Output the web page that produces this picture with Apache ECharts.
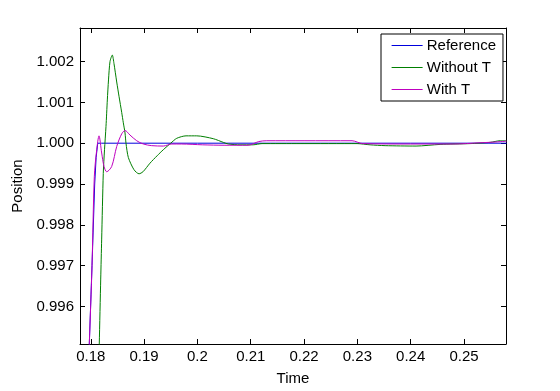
<!DOCTYPE html>
<html>
<head>
<meta charset="utf-8">
<script src="https://cdn.jsdelivr.net/npm/echarts@6/dist/echarts.min.js"></script>
<style>
html,body{margin:0;padding:0;background:#fff;}
#chart{width:560px;height:391px;}
</style>
</head>
<body>
<div id="chart"></div>
<script>
// ---- data ----
var xTicks = [0.18, 0.19, 0.20, 0.21, 0.22, 0.23, 0.24, 0.25];
var yTicks = [0.996, 0.997, 0.998, 0.999, 1.000, 1.001, 1.002];

var refTime = [0.17934, 0.17972, 0.18023, 0.18073, 0.18100, 0.18130, 0.18200, 0.2000, 0.2200, 0.2400, 0.2580];
var refPos  = [0.9937, 0.99508, 0.99700, 0.99900, 0.99965, 1.00000, 1.00000, 1.00000, 1.00000, 1.00000, 1.00000];

var woTime = [0.18150, 0.18159, 0.18186, 0.18204, 0.18234, 0.18257, 0.18285, 0.18310, 0.18332, 0.18360, 0.18403,
              0.18435, 0.18486, 0.18529, 0.18580, 0.18610, 0.18642, 0.18660, 0.18704, 0.18810, 0.18904, 0.18979,
              0.19110, 0.19242, 0.19360, 0.19499, 0.19612, 0.19786, 0.19987, 0.20298, 0.20486, 0.20579, 0.20799,
              0.21043, 0.21212, 0.21925, 0.22994, 0.23238, 0.23520, 0.24101, 0.24551, 0.25114, 0.25489, 0.25677, 0.25790];
var woPos  = [0.99450, 0.99508, 0.99667, 0.99765, 0.99926, 0.99984, 1.00041, 1.00106, 1.00155, 1.00200, 1.00216,
              1.00195, 1.00150, 1.00115, 1.00075, 1.00050, 1.00025, 1.00000, 0.99965, 0.99935, 0.99925, 0.99930,
              0.99951, 0.99969, 0.99984, 1.00000, 1.00012, 1.00018, 1.00018, 1.00011, 1.00002, 0.99998, 0.99996,
              0.99996, 0.99999, 0.99999, 0.99999, 0.99996, 0.99994, 0.99993, 0.99997, 0.99999, 1.00002, 1.00006, 1.00006];

var wTime = [0.17934, 0.17972, 0.18023, 0.18066, 0.18111, 0.18154, 0.18204, 0.18248, 0.18298, 0.18392, 0.18486,
             0.18580, 0.18642, 0.18735, 0.18861, 0.18985, 0.19142, 0.19360, 0.19518, 0.1970, 0.2010, 0.2050,
             0.2095, 0.2115, 0.2130, 0.2200, 0.2290, 0.2310, 0.2400, 0.2480, 0.2530, 0.2560, 0.2580];
var wPos  = [0.99370, 0.99508, 0.99700, 0.99918, 0.99984, 1.00018, 0.99976, 0.99943, 0.99930, 0.99943, 0.99992,
             1.00023, 1.00031, 1.00020, 1.00006, 0.99998, 0.99994, 0.99993, 0.99998, 0.99998, 0.99996, 0.99995,
             0.99995, 1.00004, 1.00006, 1.00006, 1.00006, 0.99999, 0.99998, 0.99998, 1.00001, 1.00003, 1.00005];

var seriesNames = ['Reference', 'Without T', 'With T'];
var seriesColors = ['#0000dd', '#007f00', '#bf00bf'];

function zip(a, b) { return a.map(function (v, i) { return [v, b[i]]; }); }

var FONT = "'Liberation Sans', Arial, Helvetica, sans-serif";
var X_MIN = 0.177974, X_MAX = 0.257878;
var Y_MIN = 0.995079, Y_MAX = 1.002823;

function xFmt(v) { return String(parseFloat(v.toFixed(2))); }
function yFmt(v) { return v.toFixed(3); }

function xAxisCfg(pos, showLabel) {
  return {
    type: 'value', position: pos, min: X_MIN, max: X_MAX,
    name: showLabel ? 'Time' : '', nameLocation: 'middle', nameGap: 27,
    nameTextStyle: { fontFamily: FONT, fontSize: 15, color: '#000' },
    axisLine: { show: true, onZero: false, lineStyle: { color: '#000', width: 1 } },
    axisTick: { show: true, inside: true, length: 5, lineStyle: { color: '#000' }, customValues: xTicks },
    axisLabel: { show: showLabel, customValues: xTicks, formatter: xFmt, fontFamily: FONT, fontSize: 15, color: '#000', margin: 5 },
    splitLine: { show: false }
  };
}
function yAxisCfg(pos, showLabel) {
  return {
    type: 'value', position: pos, min: Y_MIN, max: Y_MAX,
    name: showLabel ? 'Position' : '', nameLocation: 'middle', nameGap: 49,
    nameTextStyle: { fontFamily: FONT, fontSize: 15, color: '#000' },
    axisLine: { show: true, onZero: false, lineStyle: { color: '#000', width: 1 } },
    axisTick: { show: true, inside: true, length: 5, lineStyle: { color: '#000' }, customValues: yTicks },
    axisLabel: { show: showLabel, customValues: yTicks, formatter: yFmt, fontFamily: FONT, fontSize: 15, color: '#000', margin: 6 },
    splitLine: { show: false }
  };
}

var datasets = [zip(refTime, refPos), zip(woTime, woPos), zip(wTime, wPos)];
var smooths = [false, 0.25, 0.3];

var legendRich = { t: { fontFamily: FONT, fontSize: 15, color: '#000', lineHeight: 15 } };
seriesColors.forEach(function (c, i) {
  legendRich['l' + i] = { width: 31, height: 1, backgroundColor: c, fontSize: 1, color: 'rgba(0,0,0,0)' };
});

var chart = echarts.init(document.getElementById('chart'), null, { renderer: 'canvas' });
chart.setOption({
  backgroundColor: '#fff',
  animation: false,
  grid: { left: 80, right: 54, top: 28, bottom: 46, containLabel: false },
  xAxis: [xAxisCfg('bottom', true), xAxisCfg('top', false)],
  yAxis: [yAxisCfg('left', true), yAxisCfg('right', false)],
  legend: {
    orient: 'vertical', left: 381, top: 34,
    padding: [4, 7, 4, 0], itemGap: 7, itemWidth: 0, itemHeight: 14,
    backgroundColor: '#fff', borderColor: '#000', borderWidth: 1, borderRadius: 0,
    itemStyle: { opacity: 0, borderWidth: 0 },
    lineStyle: { opacity: 0, width: 0 },
    selectedMode: false,
    textStyle: { fontFamily: FONT, fontSize: 15, color: '#000', rich: legendRich },
    formatter: function (name) {
      var i = seriesNames.indexOf(name);
      return '{l' + i + '| }{t| ' + name + '}';
    },
    data: seriesNames
  },
  series: seriesNames.map(function (n, i) {
    return {
      name: n, type: 'line', xAxisIndex: 0, yAxisIndex: 0,
      data: datasets[i], symbol: 'none', smooth: smooths[i], clip: true,
      lineStyle: { color: seriesColors[i], width: 1 }, itemStyle: { color: seriesColors[i] },
      z: 2 + i
    };
  })
});
</script>
</body>
</html>
